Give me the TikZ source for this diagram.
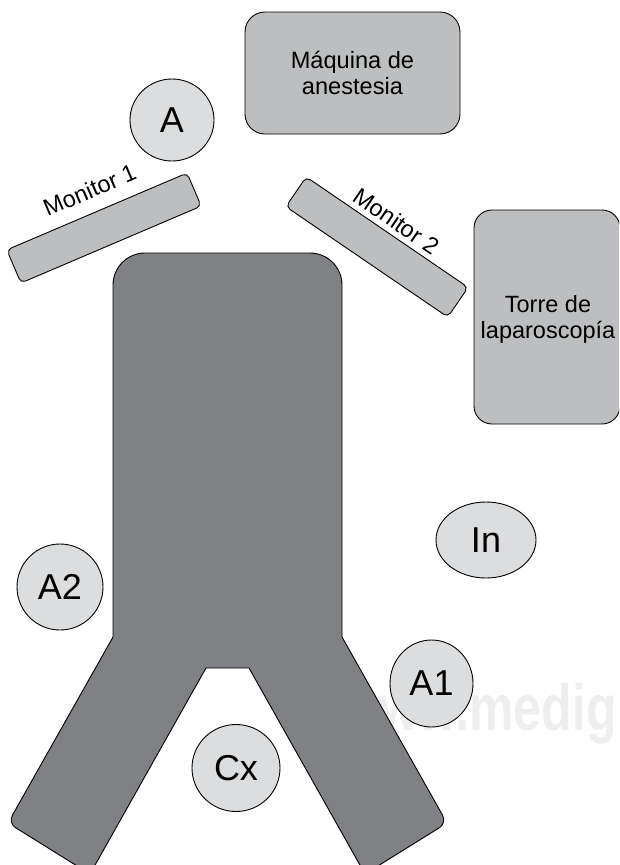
\documentclass[tikz,border=0pt]{standalone}
\usepackage{fontspec}
\usepackage{xcolor}
\usetikzlibrary{shapes.geometric}
\setmainfont{Liberation Sans}
\definecolor{tablegray}{HTML}{808184}
\definecolor{equipgray}{HTML}{BCBEC0}
\definecolor{staffgray}{HTML}{DCDDDE}
\definecolor{markgray}{HTML}{EEEEEF}

\begin{document}
\begin{tikzpicture}[
    x=1pt, y=-1pt,
    equip/.style={rectangle, draw, rounded corners=20pt, fill=equipgray, line width=0.9pt,
                  font=\fontsize{23.6}{26}\selectfont, align=center},
    screen/.style={rectangle, draw, rounded corners=5pt, fill=equipgray, line width=0.9pt,
                   minimum width=196pt, minimum height=36pt},
    staff/.style={ellipse, draw, fill=staffgray, line width=0.9pt, inner sep=0pt,
                  font=\fontsize{36}{36}\selectfont},
    lbl/.style={inner sep=0pt, font=\fontsize{23.5}{26}\selectfont},
]
    \useasboundingbox (0,0) rectangle (619,865);
    \clip (0,0) rectangle (619,865);

    % watermark
    \node[anchor=base east, inner sep=0pt, text=markgray, xscale=0.77,
          font=\fontsize{65}{65}\selectfont\bfseries] (mark) at (617,730) {ww.medig};

    % table
    \draw[fill=tablegray, line width=0.9pt] (113,637)
        [rounded corners=32pt] -- (113,253) -- (342,253) [sharp corners] -- (342,637)
        [rounded corners=9pt] -- (447,823) -- (365,874) [sharp corners] -- (249,668)
        -- (206,668) -- (90,874) [rounded corners=9pt] -- (8,823) [sharp corners] -- cycle;

    % equipment
    \node[equip, minimum width=215pt, minimum height=122pt] (maq) at (352.5,73) {Máquina de\\anestesia};
    \node[equip, rounded corners=18pt, minimum width=146pt, minimum height=214pt, inner sep=0pt] (torre) at (547,317) {};
    \node[lbl, align=center] (torrelbl) at (548,319) {Torre de\\laparoscopía};

    % monitors
    \node[screen, rotate=23.1] (mon1) at (104,228) {};
    \node[screen, rotate=-34.3] (mon2) at (377,247) {};
    \node[lbl, rotate=23.1] (mon1lbl) at (89.5,190) {Monitor 1};
    \node[lbl, rotate=-34.3] (mon2lbl) at (396.5,221) {Monitor 2};

    % people
    \node[staff, minimum width=84pt, minimum height=82pt] (a) at (172,120) {A};
    \node[staff, minimum width=100pt, minimum height=76pt] (in) at (486,540) {In};
    \node[staff, minimum width=86pt, minimum height=86pt] (a2) at (60,587) {A2};
    \node[staff, minimum width=83pt, minimum height=87pt] (a1) at (431.5,683.5) {A1};
    \node[staff, minimum width=88pt, minimum height=87pt] (cx) at (236,768) {Cx};
\end{tikzpicture}
\end{document}
